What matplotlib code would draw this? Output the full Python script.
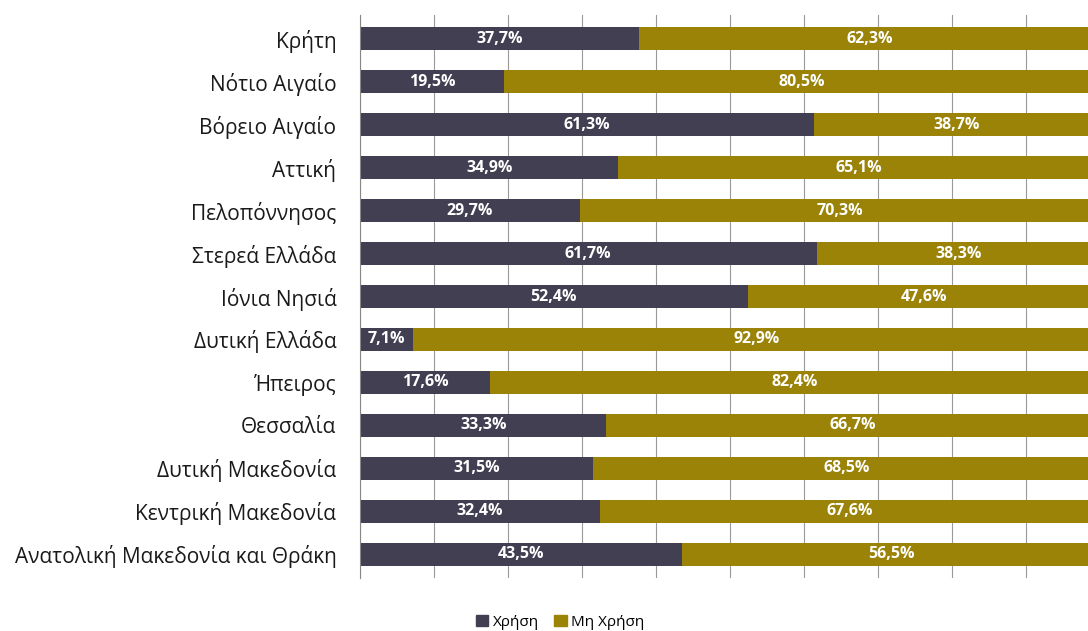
import matplotlib.pyplot as plt
import numpy as np
from matplotlib.patches import Patch

# regions top to bottom, share of use / non-use (%)
regions = ["Κρήτη", "Νότιο Αιγαίο", "Βόρειο Αιγαίο", "Αττική", "Πελοπόννησος",
           "Στερεά Ελλάδα", "Ιόνια Νησιά", "Δυτική Ελλάδα", "Ήπειρος", "Θεσσαλία",
           "Δυτική Μακεδονία", "Κεντρική Μακεδονία", "Ανατολική Μακεδονία και Θράκη"]
use = [37.7, 19.5, 61.3, 34.9, 29.7, 61.7, 52.4, 7.1, 17.6, 33.3, 31.5, 32.4, 43.5]
no_use = [62.3, 80.5, 38.7, 65.1, 70.3, 38.3, 47.6, 92.9, 82.4, 66.7, 68.5, 67.6, 56.5]

c_use = "#413F51"
c_no = "#9A8307"

plt.rcParams['font.family'] = ['Open Sans', 'DejaVu Sans']

fig = plt.figure(figsize=(10.88, 6.31), dpi=100)
# axes runs a bit past the right edge, like the cropped original
ax = fig.add_axes([360 / 1088, 53 / 631, 740 / 1088, 563 / 631])

y = np.arange(len(regions))
ax.barh(y, use, height=0.53, color=c_use, zorder=2)
ax.barh(y, no_use, left=use, height=0.53, color=c_no, zorder=2)

for i in range(len(regions)):
    ax.text(use[i] / 2, i, f"{use[i]:.1f}%".replace(".", ","), ha="center", va="center",
            color="white", fontweight="bold", fontsize=11.5)
    ax.text(use[i] + no_use[i] / 2, i, f"{no_use[i]:.1f}%".replace(".", ","), ha="center",
            va="center", color="white", fontweight="bold", fontsize=11.5)

ax.set_xlim(0, 100)
ax.set_ylim(len(regions) - 0.45, -0.55)
ax.set_xticks(np.arange(0, 101, 10))
ax.set_xticklabels([])
ax.tick_params(axis="x", length=0)
ax.tick_params(axis="y", length=0, pad=17, labelsize=15, labelcolor="#1a1a1a")
ax.set_yticks(y)
ax.set_yticklabels(regions)
ax.grid(axis="x", color="#999999", linewidth=0.8, zorder=0)
for s in ["top", "right", "bottom"]:
    ax.spines[s].set_visible(False)
ax.spines["left"].set_color("#888888")
ax.spines["left"].set_zorder(3)

handles = [Patch(color=c_use, label="Χρήση"), Patch(color=c_no, label="Μη Χρήση")]
fig.legend(handles=handles, loc="center", bbox_to_anchor=(0.515, 0.014), ncol=2,
           frameon=False, fontsize=11, handlelength=0.8, handleheight=0.8,
           handletextpad=0.3, columnspacing=1.0)

fig.savefig("out.png", dpi=100)
